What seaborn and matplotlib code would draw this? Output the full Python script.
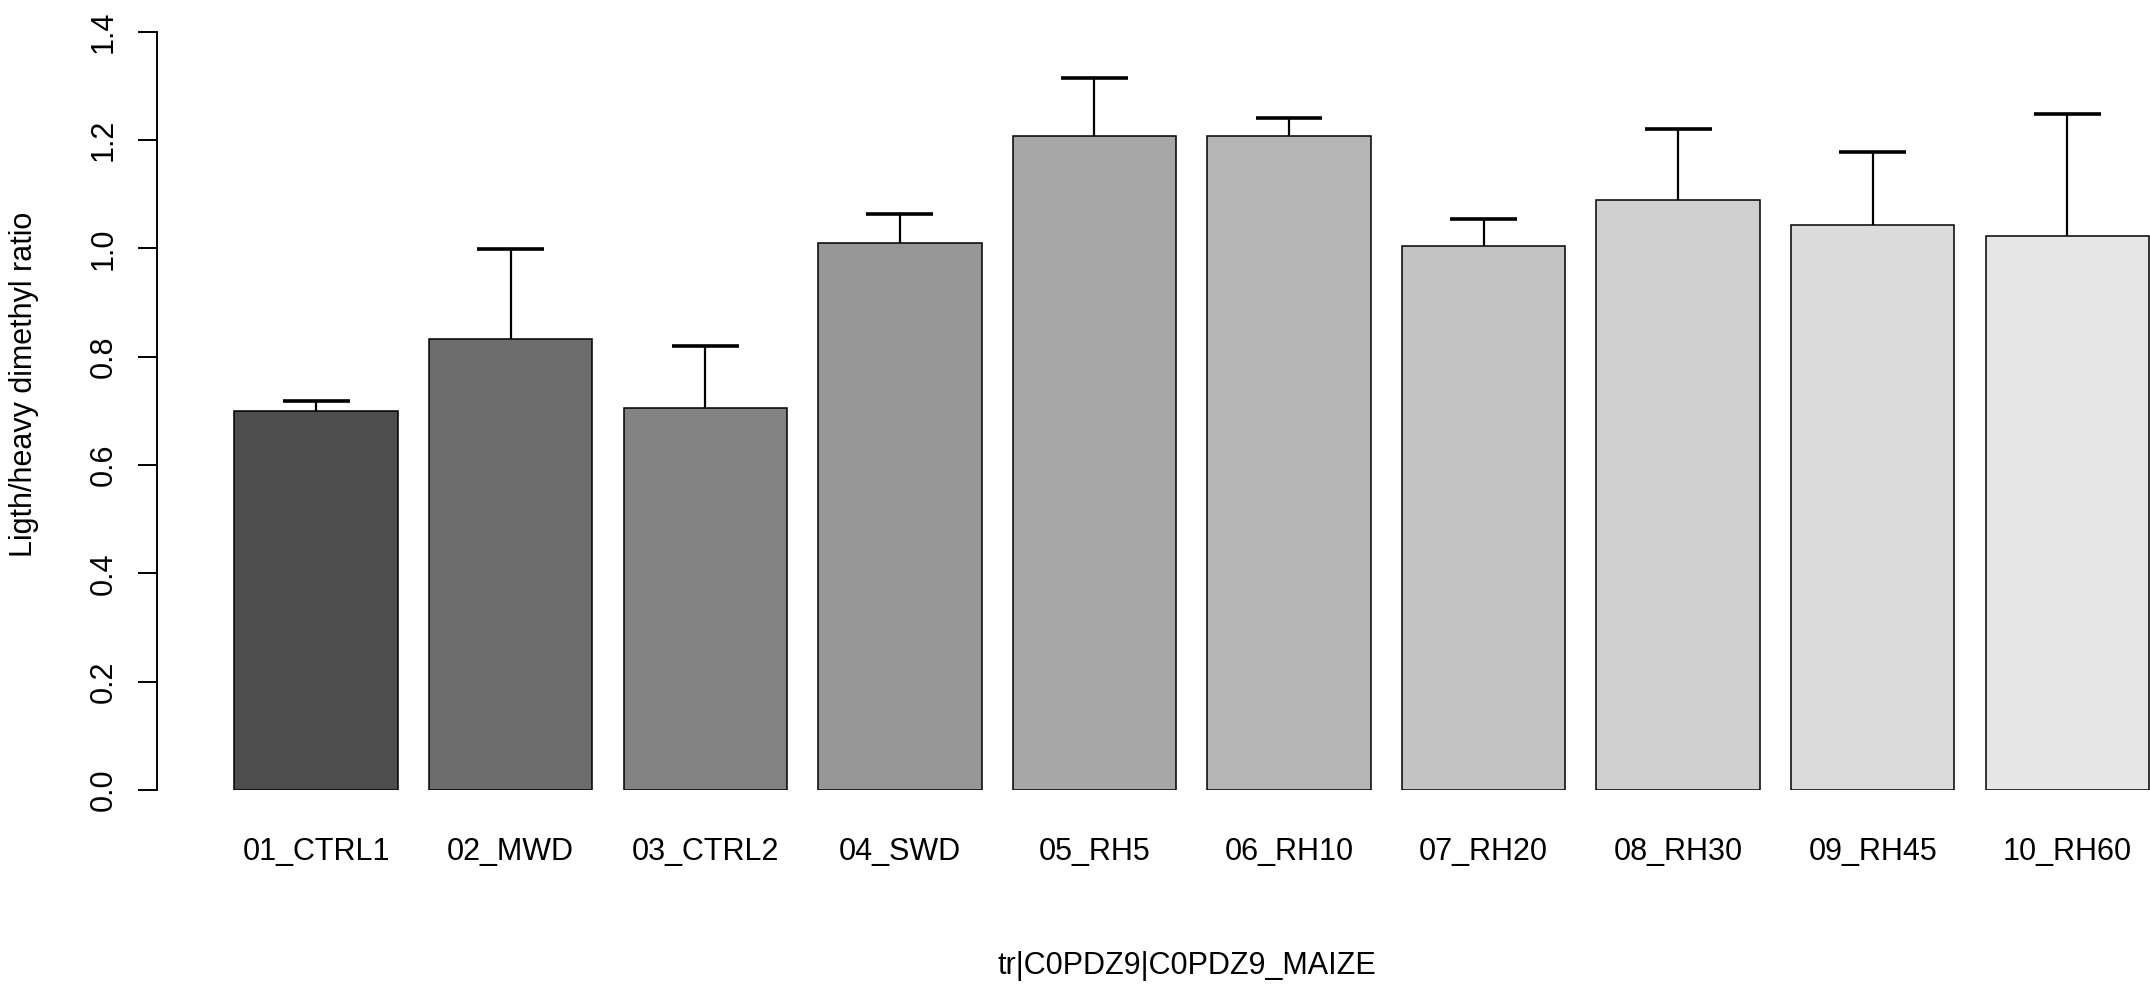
import numpy as np
import pandas as pd
import seaborn as sns
import matplotlib.pyplot as plt

# values
groups = ["01_CTRL1", "02_MWD", "03_CTRL2", "04_SWD", "05_RH5",
          "06_RH10", "07_RH20", "08_RH30", "09_RH45", "10_RH60"]
ratio = [0.700, 0.833, 0.706, 1.010, 1.208, 1.208, 1.005, 1.090, 1.043, 1.023]
ratio_sd = [0.018, 0.165, 0.113, 0.053, 0.106, 0.032, 0.050, 0.130, 0.135, 0.225]

data = pd.DataFrame({"group": groups, "ratio": ratio, "sd": ratio_sd})

# R style gray.colors(10, start=0.3, end=0.9, gamma=2.2)
lv = np.linspace(0.3 ** 2.2, 0.9 ** 2.2, len(groups)) ** (1 / 2.2)
greys = [(v, v, v) for v in lv]

sns.set_style("white")
plt.rcParams["font.family"] = ["Liberation Sans", "DejaVu Sans"]
plt.rcParams.update({"text.color": "black", "axes.labelcolor": "black",
                     "xtick.color": "black", "ytick.color": "black",
                     "axes.edgecolor": "black"})

W, H = 2150, 986
fig = plt.figure(figsize=(W / 100, H / 100), dpi=100)
ax = fig.add_axes([156.7 / W, 1 - 790 / H, 1 - 156.7 / W, (790 - 31.7) / H])

sns.barplot(data=data, x="group", y="ratio", hue="group", palette=greys,
            legend=False, width=0.84, edgecolor="black", linewidth=1.1,
            saturation=1, ax=ax)

# upper error bars only, like arrows() in R
pos = np.arange(len(groups))
top = data["ratio"] + data["sd"]
ax.vlines(pos, data["ratio"], top, color="black", lw=1.6, zorder=5)
ax.hlines(top, pos - 0.172, pos + 0.172, color="black", lw=2.6, zorder=5)

ax.set_xlim(-0.819, 9.425)
ax.set_ylim(0, 1.4)
ax.set_yticks(np.arange(0, 1.41, 0.2))
ax.set_yticklabels([f"{v:.1f}" for v in np.arange(0, 1.41, 0.2)])
for s in ["top", "right", "bottom"]:
    ax.spines[s].set_visible(False)
ax.spines["left"].set_linewidth(1.4)
ax.tick_params(axis="y", length=13.5, width=1.4, direction="out", pad=14,
               labelsize=22, labelrotation=90, left=True)
for t in ax.get_yticklabels():
    t.set_va("center")
ax.tick_params(axis="x", length=0, pad=33.5, labelsize=22)
ax.set_xlabel("")
ax.set_ylabel("")

fig.text(24.5 / W, 1 - 384.5 / H, "Ligth/heavy dimethyl ratio", rotation=90,
         ha="center", va="center", fontsize=22)
fig.text(1187 / W, 1 - 966 / H, "tr|C0PDZ9|C0PDZ9_MAIZE",
         ha="center", va="center", fontsize=22)

plt.savefig("out.png", dpi=100)
